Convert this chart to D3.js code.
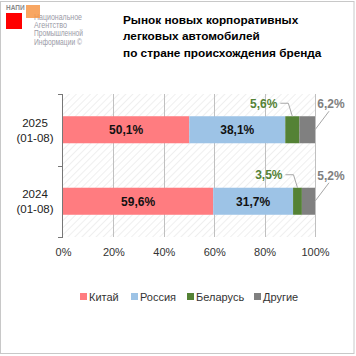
<!DOCTYPE html>
<html><head><meta charset="utf-8">
<script src="https://cdn.jsdelivr.net/npm/d3@7"></script>
<style>body{margin:0;background:#fff}svg{display:block;font-family:Arial,"Liberation Sans",sans-serif}</style>
</head><body><svg id="c" width="356" height="356"></svg>
<script>
const categories = ["2025|(01-08)", "2024|(01-08)"];
const seriesNames = ["Китай", "Россия", "Беларусь", "Другие"];
const seriesColors = ["#FF7C80", "#9DC3E6", "#548235", "#808080"];
const china = [50.1, 59.6];
const russia = [38.1, 31.7];
const belarus = [5.6, 3.5];
const others = [6.2, 5.2];
const xTicks = [0, 20, 40, 60, 80, 100];
const titleLines = ["Рынок новых корпоративных", "легковых автомобилей", "по стране происхождения бренда"];
const logoLines = ["Национальное", "Агентство", "Промышленной", "Информации ©"];

(function(){
const seriesValues = [china, russia, belarus, others];
const fmt = v => v.toFixed(1).replace(".", ",") + "%";

const svg = d3.select("#c");
svg.append("rect").attr("x",0.5).attr("y",1.5).attr("width",353.5).attr("height",352)
  .attr("fill","#fff").attr("stroke","#c8c8c8").attr("stroke-width",1);

// logo
svg.append("rect").attr("x",6).attr("y",13).attr("width",16).attr("height",16).attr("fill","#ff0000");
svg.append("text").attr("x",6).attr("y",10).attr("font-size",6.5).attr("font-weight","bold").attr("fill","#8a8a8a").text("НАПИ");
const logoW = [48, 33, 49, 48];
const lg = svg.append("g");
logoLines.forEach((t,i)=>{
  lg.append("text").attr("x",34).attr("y",20+i*8.2).attr("font-size",8.2).attr("fill","#9a9aa6")
    .attr("textLength", logoW[i]).attr("lengthAdjust","spacingAndGlyphs").text(t);
});
svg.append("rect").attr("x",26).attr("y",5).attr("width",14).attr("height",13).attr("fill","#F79646").attr("opacity",0.85);

// title
titleLines.forEach((t,i)=>{
  svg.append("text").attr("x",123).attr("y",23.5+i*16.5).attr("font-size",11.8).attr("font-weight","bold").attr("fill","#000").text(t);
});

const pL=63, pR=315, pT=94, pB=237;
const x = d3.scaleLinear().domain([0,100]).range([pL,pR]);
const y = d3.scaleBand().domain(categories).range([pT,pB]).paddingInner(0.622).paddingOuter(0.311);

// hatch
const defs = svg.append("defs");
const pat = defs.append("pattern").attr("id","hatch").attr("patternUnits","userSpaceOnUse")
  .attr("width",5).attr("height",5).attr("patternTransform","rotate(45)");
pat.append("line").attr("x1",0).attr("y1",0).attr("x2",0).attr("y2",5).attr("stroke","#e4e4e4").attr("stroke-width",1.2);
svg.append("rect").attr("x",pL).attr("y",pT).attr("width",pR-pL).attr("height",pB-pT).attr("fill","url(#hatch)");

// grid
svg.append("g").selectAll("line").data(xTicks.slice(1)).join("line")
  .attr("x1",d=>Math.round(x(d))+0.5).attr("x2",d=>Math.round(x(d))+0.5).attr("y1",pT).attr("y2",pB)
  .attr("stroke","#c0c0c0").attr("stroke-width",1);

// x tick labels
const xAxis = d3.axisBottom(x).tickValues(xTicks).tickFormat(d=>d+"%").tickSize(0).tickPadding(11);
const gx = svg.append("g").attr("transform",`translate(0,${pB})`).call(xAxis);
gx.select(".domain").remove();
gx.selectAll("text").attr("font-size",11).attr("fill","#333").attr("font-family","Arial, 'Liberation Sans', sans-serif");

// y axis line + ticks at category boundaries
const yb = [pT, (pT+pB)/2, pB];
svg.append("line").attr("x1",pL-0.5).attr("x2",pL-0.5).attr("y1",pT).attr("y2",pB).attr("stroke","#777");
svg.append("g").selectAll("line").data(yb).join("line")
  .attr("x1",pL-5).attr("x2",pL).attr("y1",d=>Math.round(d)+0.5).attr("y2",d=>Math.round(d)+0.5).attr("stroke","#777");

// y labels
categories.forEach(c=>{
  const [a,b] = c.split("|");
  const cy = y(c)+y.bandwidth()/2;
  const t = svg.append("text").attr("x",35).attr("text-anchor","middle").attr("font-size",11.5).attr("fill","#222");
  t.append("tspan").attr("x",35).attr("y",cy-3).text(a);
  t.append("tspan").attr("x",35).attr("y",cy+12).text(b);
});

// stack
const rows = categories.map((c,i)=>{const o={cat:c}; seriesNames.forEach((s,j)=>o[s]=seriesValues[j][i]); return o;});
const stack = d3.stack().keys(seriesNames)(rows);
stack.forEach((layer,j)=>{
  svg.append("g").selectAll("rect").data(layer).join("rect")
    .attr("x",d=>x(d[0])).attr("width",d=>x(d[1])-x(d[0]))
    .attr("y",d=>y(d.data.cat)).attr("height",y.bandwidth()).attr("fill",seriesColors[j]);
});
// inner labels
stack.slice(0,2).forEach(layer=>{
  svg.append("g").selectAll("text").data(layer).join("text")
    .attr("x",d=>(x(d[0])+x(d[1]))/2).attr("y",d=>y(d.data.cat)+y.bandwidth()/2+4.5)
    .attr("text-anchor","middle").attr("font-size",12).attr("font-weight","bold").attr("fill","#111")
    .text(d=>fmt(d[1]-d[0]));
});
// outer labels with leaders
const lead = svg.append("g");
stack[2].forEach(d=>{
  const by = y(d.data.cat);
  const cx = (x(d[0])+x(d[1]))/2;
  const ly = by - 13;
  lead.append("polyline").attr("points",`${cx-12},${ly} ${cx-4},${ly} ${cx},${by}`)
    .attr("fill","none").attr("stroke","#a6a6a6").attr("stroke-width",1);
  svg.append("text").attr("x",cx-15).attr("y",ly+4.5).attr("text-anchor","end")
    .attr("font-size",12).attr("font-weight","bold").attr("fill",seriesColors[2]).text(fmt(d[1]-d[0]));
});
stack[3].forEach(d=>{
  const by = y(d.data.cat);
  const ex = x(d[1]);
  const my = by + y.bandwidth()/2;
  lead.append("line").attr("x1",ex).attr("y1",my).attr("x2",ex+14).attr("y2",by-5)
    .attr("stroke","#a6a6a6").attr("stroke-width",1);
  svg.append("text").attr("x",ex+16).attr("y",by-8).attr("text-anchor","middle")
    .attr("font-size",12).attr("font-weight","bold").attr("fill","#808080").text(fmt(d[1]-d[0]));
});

// legend
const legX = [80, 131, 187, 254];
const lgd = svg.append("g");
seriesNames.forEach((s,i)=>{
  lgd.append("rect").attr("x",legX[i]).attr("y",293).attr("width",7).attr("height",7).attr("fill",seriesColors[i]);
  lgd.append("text").attr("x",legX[i]+9).attr("y",301).attr("font-size",11).attr("fill","#333").text(s);
});
})();
</script></body></html>
